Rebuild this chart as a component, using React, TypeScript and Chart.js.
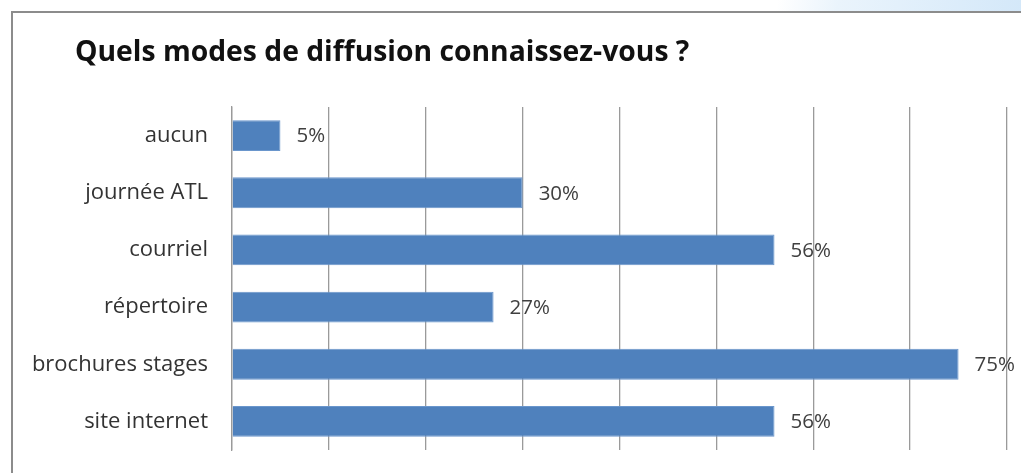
import React, { useEffect, useRef } from "react";
import { Chart, registerables } from "chart.js";

Chart.register(...registerables);

const titleText = "Quels modes de diffusion connaissez-vous ?";
const categories = ["aucun", "journée ATL", "courriel", "répertoire", "brochures stages", "site internet"];
const values = [5, 30, 56, 27, 75, 56];
const axisMax = 80;
const axisStep = 10;

const FONT = "'Open Sans', Lato, sans-serif";

const overlayPlugin = {
  id: "overlay",
  afterDatasetsDraw(chart: any) {
    const ctx = chart.ctx;
    const meta = chart.getDatasetMeta(0);
    ctx.save();
    ctx.fillStyle = "#404040";
    ctx.font = `20.5px ${FONT}`;
    ctx.textAlign = "left";
    ctx.textBaseline = "middle";
    meta.data.forEach((bar: any, i: number) => {
      ctx.fillText(values[i] + "%", bar.x + 16, bar.y + 1);
    });
    ctx.restore();
  },
  afterDraw(chart: any) {
    const ctx = chart.ctx;
    ctx.save();
    ctx.fillStyle = "#111111";
    ctx.font = `bold 28.3px ${FONT}`;
    ctx.textAlign = "left";
    ctx.textBaseline = "alphabetic";
    ctx.fillText(titleText, 75, 61);
    ctx.restore();
  },
};

export default function App() {
  const ref = useRef<HTMLCanvasElement>(null);
  useEffect(() => {
    document.body.style.margin = "0";
    const chart = new Chart(ref.current!, {
      type: "bar",
      data: {
        labels: categories,
        datasets: [
          {
            data: values,
            backgroundColor: "#4F81BD",
            borderColor: "#6A96CC",
            borderWidth: 1,
            barPercentage: 0.54,
            categoryPercentage: 1,
          },
        ],
      },
      options: {
        indexAxis: "y",
        animation: false,
        responsive: false,
        devicePixelRatio: 1,
        layout: { padding: { top: 107, bottom: 23, right: 14, left: 0 } },
        plugins: {
          legend: { display: false },
          title: { display: false },
          tooltip: { enabled: false },
        },
        scales: {
          x: {
            min: 0,
            max: axisMax,
            ticks: { display: false, stepSize: axisStep },
            grid: { color: "#9a9a9a", lineWidth: 1.3, drawTicks: false },
            border: { display: false },
            afterFit(scale: any) {
              scale.height = 0;
              scale.paddingLeft = 0;
              scale.paddingRight = 0;
            },
          },
          y: {
            ticks: {
              color: "#333333",
              font: { family: FONT, size: 22 },
              padding: 24,
            },
            grid: { display: false, drawTicks: false },
            border: { display: true, color: "#9a9a9a", width: 1.3 },
            afterFit(scale: any) {
              scale.width = 232;
              scale.paddingTop = 0;
              scale.paddingBottom = 0;
            },
          },
        },
      },
      plugins: [overlayPlugin],
    });
    return () => chart.destroy();
  }, []);

  return (
    <div style={{ position: "relative", width: 1021, height: 473, background: "#ffffff", overflow: "hidden" }}>
      <div
        style={{
          position: "absolute",
          left: 0,
          top: 0,
          width: 1021,
          height: 11,
          background: "linear-gradient(100deg, rgba(255,255,255,1) 0%, rgba(255,255,255,1) 76%, #eaf4fc 82%, #d4e8f9 100%)",
        }}
      />
      <div
        style={{
          position: "absolute",
          left: 11,
          top: 11,
          width: 1030,
          height: 480,
          borderLeft: "2px solid #8c8c8c",
          borderTop: "2px solid #8c8c8c",
          boxSizing: "border-box",
        }}
      />
      <canvas ref={ref} width={1021} height={473} style={{ position: "absolute", left: 0, top: 0 }} />
    </div>
  );
}
